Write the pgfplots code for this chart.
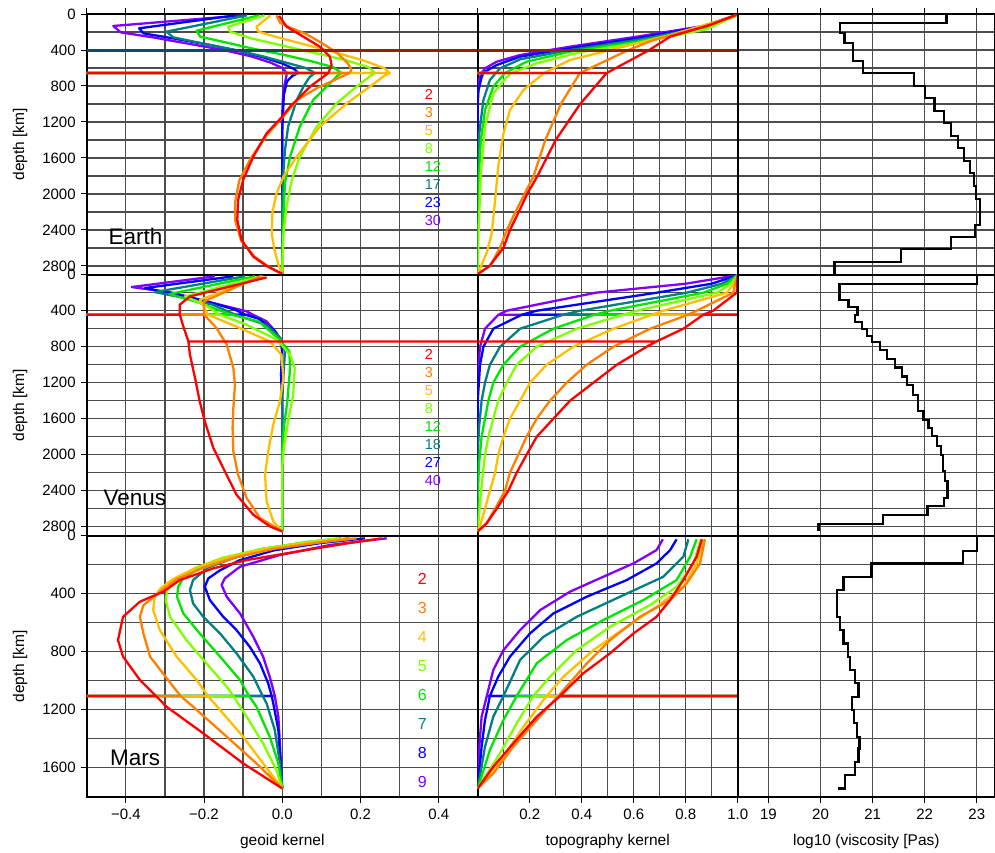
\documentclass[border=0pt]{standalone}
\usepackage{fontspec}
\setmainfont{Liberation Sans}
\usepackage{pgfplots}
\pgfplotsset{compat=1.18}

% spherical-harmonic degree colours (low degree = red ... high degree = violet)
\definecolor{dA}{RGB}{255,0,0}
\definecolor{dB}{RGB}{255,128,0}
\definecolor{dC}{RGB}{255,191,0}
\definecolor{dD}{RGB}{128,255,0}
\definecolor{dE}{RGB}{0,230,0}
\definecolor{dF}{RGB}{0,128,128}
\definecolor{dG}{RGB}{0,0,255}
\definecolor{dH}{RGB}{128,0,255}
\definecolor{pbTeal}{RGB}{22,72,98}
\definecolor{pbRed}{RGB}{150,30,15}

\newcommand{\tickfont}{\fontsize{15}{18}\selectfont}
\newcommand{\labfont}{\fontsize{15.5}{18}\selectfont}
\newcommand{\planetfont}{\fontsize{22.5}{26}\selectfont}
\newcommand{\keyfont}{\fontsize{14.5}{16}\selectfont}
\newcommand{\keyfontM}{\fontsize{16}{18}\selectfont}

\pgfplotsset{
  panel/.style={
    scale only axis, anchor=north west, y dir=reverse,
    axis line style={line width=1.6pt},
    tick align=outside, major tick length=6pt, minor tick length=6pt,
    tick style={black, line width=1pt},
    minor y tick style={draw=none},
    grid=both,
    major grid style={line width=1.3pt, black!70},
    minor grid style={line width=1.3pt, black!70},
    ticklabel style={font=\tickfont},
    xticklabel style={yshift=-3pt},
    yticklabel style={xshift=-1.5pt},
    label style={font=\labfont},
    xlabel style={at={(axis description cs:0.5,-0.1724)}, anchor=center},
    every axis plot/.append style={line width=2.3pt, line join=round},
  },
  geoid/.style={panel, width=391.1pt, xmin=-0.5, xmax=0.5,
    xtick={-0.4,-0.2,0,0.2,0.4}, minor xtick={-0.5,-0.3,-0.1,0.1,0.3,0.5},
    xticklabels={−0.4,−0.2,0.0,0.2,0.4},
    ytick pos=left,
    yticklabels={0,400,800,1200,1600,2000,2400,2800},
    ylabel={depth [km]},
    ylabel style={at={(axis description cs:-0.1705,0.5)}, anchor=center}},
  topo/.style={panel, width=260pt, xmin=0, xmax=1,
    xtick={0.2,0.4,0.6,0.8,1.0}, minor xtick={0,0.1,0.3,0.5,0.7,0.9},
    xticklabels={0.2,0.4,0.6,0.8,1.0},
    yticklabels={}, ytick style={draw=none}},
  visc/.style={panel, width=257.3pt, xmin=18.41, xmax=23.35,
    xtick={19,20,21,22,23}, xticklabels={19,20,21,22,23},
    yticklabels={}, ytick style={draw=none}},
  earthrow/.style={height=260.7pt, ymin=0, ymax=2897,
    ytick={0,400,...,2800}, minor ytick={200,600,...,2600},
    xtick pos=right, xticklabels={}},
  venusrow/.style={height=261pt, ymin=0, ymax=2900,
    ytick={0,400,...,2800}, minor ytick={200,600,...,2600},
    xtick style={draw=none}, xticklabels={}},
  marsrow/.style={height=261pt, ymin=0, ymax=1800,
    ytick={0,400,...,1600}, minor ytick={200,600,...,1800},
    xtick pos=left, minor x tick style={draw=none}},
}

\begin{document}
\begin{tikzpicture}
\path[use as bounding box] (0pt,0pt) rectangle (995pt,-852pt);

%================= EARTH =================
\begin{axis}[geoid, earthrow, at={(86.7pt,-14pt)}]
\addplot[dH] coordinates {(-0.10,15) (-0.27,75) (-0.432,133) (-0.413,204) (-0.33,260) (-0.24,330) (-0.15,400) (-0.08,470) (-0.03,540) (0,600) (0.012,656) (-1,656) (0.012,656) (0.01,700) (0.006,780) (0.002,900) (0,1100) (0,2891)};
\addplot[dG] coordinates {(-0.12,15) (-0.366,159) (-0.355,215) (-0.28,270) (-0.19,340) (-0.11,410) (-0.05,480) (0,550) (0.03,610) (0.041,656) (-1,656) (0.041,656) (0.025,690) (0.012,750) (0.004,900) (0,1300) (0,2891)};
\addplot[dF] coordinates {(-0.09,15) (-0.296,196) (-0.279,259) (-0.2,330) (-0.12,400) (-0.05,470) (0.01,540) (0.06,600) (0.084,656) (-1,656) (0.084,656) (0.07,700) (0.055,800) (0.037,955) (0.015,1250) (0.007,1510) (0.003,1750) (0,2100) (0,2891)};
\addplot[dE] coordinates {(-0.06,15) (-0.219,185) (-0.21,252) (-0.14,320) (-0.07,390) (0,450) (0.07,520) (0.13,590) (0.152,656) (-1,656) (0.152,656) (0.14,690) (0.122,770) (0.079,955) (0.045,1250) (0.02,1585) (0.007,1880) (0.003,2250) (0,2700) (0,2891)};
\addplot[dD] coordinates {(-0.045,15) (-0.138,141) (-0.134,196) (-0.08,270) (0,350) (0.08,430) (0.16,510) (0.22,590) (0.237,656) (-1,656) (0.237,656) (0.225,690) (0.19,807) (0.139,993) (0.088,1252) (0.045,1585) (0.024,1850) (0.011,2140) (0.003,2440) (0,2891)};
\addplot[dC] coordinates {(-0.03,15) (-0.066,141) (-0.061,196) (-0.02,250) (0.05,330) (0.13,420) (0.21,520) (0.26,600) (0.275,656) (-1,656) (0.275,656) (0.26,690) (0.224,807) (0.165,993) (0.096,1252) (0.037,1585) (0.003,1807) (-0.015,2000) (-0.025,2200) (-0.027,2440) (-0.02,2620) (-0.01,2780) (0,2891)};
\addplot[dB] coordinates {(-0.015,15) (-0.005,100) (0.02,150) (0.06,220) (0.1,320) (0.14,430) (0.168,550) (0.177,620) (0.172,656) (-1,656) (0.172,656) (0.14,720) (0.09,820) (0.04,950) (0,1150) (-0.04,1350) (-0.08,1600) (-0.11,1850) (-0.121,2100) (-0.12,2300) (-0.105,2520) (-0.07,2700) (-0.03,2820) (0,2891)};
\addplot[dA] coordinates {(-0.008,20) (0.011,141) (0.054,252) (0.096,363) (0.122,474) (0.126,567) (0.118,656) (-1,656) (0.118,656) (0.071,807) (0.02,1030) (0,1141) (-0.04,1326) (-0.074,1585) (-0.1,1844) (-0.113,2067) (-0.115,2289) (-0.104,2511) (-0.074,2696) (-0.04,2800) (0,2888)};
\addplot[pbTeal] coordinates {(-0.5,407) (0,407)};
\addplot[pbRed] coordinates {(0,407) (0.5,407)};
\node[font=\planetfont] at (axis cs:-0.375,2474) {Earth};
\node[anchor=west, inner sep=0pt, font=\keyfont, text=dA] at (axis cs:0.364,897) {2};
\node[anchor=west, inner sep=0pt, font=\keyfont, text=dB] at (axis cs:0.364,1096) {3};
\node[anchor=west, inner sep=0pt, font=\keyfont, text=dC] at (axis cs:0.364,1295) {5};
\node[anchor=west, inner sep=0pt, font=\keyfont, text=dD] at (axis cs:0.364,1494) {8};
\node[anchor=west, inner sep=0pt, font=\keyfont, text=dE] at (axis cs:0.364,1693) {12};
\node[anchor=west, inner sep=0pt, font=\keyfont, text=dF] at (axis cs:0.364,1892) {17};
\node[anchor=west, inner sep=0pt, font=\keyfont, text=dG] at (axis cs:0.364,2091) {23};
\node[anchor=west, inner sep=0pt, font=\keyfont, text=dH] at (axis cs:0.364,2290) {30};
\end{axis}

\begin{axis}[topo, earthrow, at={(477.7pt,-14pt)}]
\addplot[dH] coordinates {(0.995,10) (0.868,133) (0.612,252) (0.355,363) (0.163,456) (0.073,530) (0.028,604) (0.015,656) (-1,656) (0.015,656) (0.006,720) (0,850) (0,2891)};
\addplot[dG] coordinates {(0.995,12) (0.868,140) (0.612,270) (0.355,381) (0.163,474) (0.073,567) (0.028,641) (0.022,656) (-1,656) (0.022,656) (0.015,700) (0.003,850) (0,1000) (0,2891)};
\addplot[dF] coordinates {(0.995,14) (0.868,150) (0.612,289) (0.355,400) (0.163,504) (0.086,604) (0.07,656) (-1,656) (0.07,656) (0.047,733) (0.022,955) (0.006,1326) (0,1700) (0,2891)};
\addplot[dE] coordinates {(0.995,16) (0.87,160) (0.612,307) (0.355,418) (0.188,530) (0.105,656) (-1,656) (0.105,656) (0.06,807) (0.028,1067) (0.012,1400) (0.003,1880) (0,2300) (0,2891)};
\addplot[dD] coordinates {(0.995,18) (0.88,170) (0.612,326) (0.40,420) (0.227,548) (0.13,656) (-1,656) (0.13,656) (0.112,700) (0.06,881) (0.028,1252) (0.012,1770) (0.003,2440) (0,2891)};
\addplot[dC] coordinates {(0.995,20) (0.74,233) (0.509,400) (0.355,511) (0.255,656) (-1,656) (0.255,656) (0.176,844) (0.124,1067) (0.099,1326) (0.079,1696) (0.067,2067) (0.054,2437) (0.035,2650) (0.009,2830) (0,2891)};
\addplot[dB] coordinates {(0.995,12) (0.868,141) (0.676,289) (0.58,400) (0.393,656) (-1,656) (0.393,656) (0.32,1000) (0.26,1400) (0.215,1800) (0.18,2000) (0.145,2200) (0.112,2400) (0.085,2600) (0.048,2800) (0,2891)};
\addplot[dA] coordinates {(0.995,10) (0.894,122) (0.74,252) (0.66,400) (0.496,656) (-1,656) (0.496,656) (0.394,1000) (0.3,1400) (0.23,1800) (0.19,2000) (0.158,2200) (0.124,2400) (0.099,2600) (0.045,2800) (0,2891)};
\addplot[pbRed] coordinates {(0,407) (1,407)};
\end{axis}

\begin{axis}[visc, earthrow, at={(737.7pt,-14pt)}]
\addplot[black, line width=2.2pt, line join=miter] coordinates {
(22.42,0) (22.42,96) (20.37,96) (20.37,215) (20.46,215) (20.46,326) (20.63,326) (20.63,522)
(20.82,522) (20.82,652) (21.79,652) (21.79,800) (22.0,800) (22.0,937) (22.19,937) (22.19,1074)
(22.37,1074) (22.37,1215) (22.5,1215) (22.5,1356) (22.64,1356) (22.64,1493) (22.76,1493) (22.76,1637)
(22.87,1637) (22.87,1770) (22.94,1770) (22.94,1911) (22.99,1911) (22.99,2052) (23.06,2052) (23.06,2344)
(22.96,2344) (22.96,2474) (22.51,2474) (22.51,2615) (21.54,2615) (21.54,2752) (20.27,2752) (20.27,2889)};
\end{axis}

%================= VENUS =================
\begin{axis}[geoid, venusrow, at={(86.7pt,-274.7pt)}]
\addplot[dH] coordinates {(-0.172,18) (-0.385,137) (-0.28,200) (-0.176,315) (-0.091,407) (-0.075,444) (-1,444) (-0.075,444) (-0.04,519) (-0.014,648) (-0.006,722) (0,852) (0,2852)};
\addplot[dG] coordinates {(-0.125,18) (-0.351,148) (-0.28,210) (-0.19,300) (-0.12,390) (-0.095,444) (-1,444) (-0.095,444) (-0.06,490) (-0.02,620) (0,800) (-0.003,1100) (0,1500) (0,2852)};
\addplot[dF] coordinates {(-0.095,18) (-0.326,193) (-0.26,250) (-0.18,330) (-0.12,444) (-1,444) (-0.12,444) (-0.04,560) (-0.005,700) (0.007,852) (0.004,1050) (0,1400) (0,2852)};
\addplot[dE] coordinates {(-0.07,18) (-0.289,215) (-0.22,300) (-0.13,444) (-1,444) (-0.13,444) (-0.06,520) (-0.006,722) (0.018,852) (0.02,1037) (0.013,1407) (0.004,1700) (0,1963) (0,2852)};
\addplot[dD] coordinates {(-0.053,18) (-0.249,241) (-0.20,330) (-0.16,444) (-1,444) (-0.16,444) (-0.091,556) (-0.014,722) (0.02,889) (0.032,1037) (0.028,1333) (0.015,1630) (0.004,1926) (0,2148) (0,2852)};
\addplot[dC] coordinates {(-0.049,18) (-0.21,278) (-0.19,444) (-1,444) (-0.19,444) (-0.108,593) (-0.032,741) (-0.002,889) (0.003,1148) (-0.006,1407) (-0.023,1667) (-0.036,1963) (-0.044,2222) (-0.04,2519) (-0.023,2741) (0,2852)};
\addplot[dB] coordinates {(-0.057,18) (-0.2,296) (-0.2,444) (-1,444) (-0.2,444) (-0.168,593) (-0.142,778) (-0.125,1037) (-0.121,1222) (-0.125,1481) (-0.127,1704) (-0.125,1963) (-0.113,2222) (-0.091,2481) (-0.057,2704) (0,2852)};
\addplot[dA] coordinates {(-0.04,30) (-0.236,241) (-0.262,333) (-0.262,444) (-1,444) (-0.262,444) (-0.253,574) (-0.24,741) (2,741) (-0.24,741) (-0.236,889) (-0.223,1148) (-0.211,1407) (-0.198,1630) (-0.176,1926) (-0.151,2148) (-0.117,2444) (-0.074,2667) (-0.032,2796) (0,2852)};
\node[font=\planetfont] at (axis cs:-0.377,2476) {Venus};
\node[anchor=west, inner sep=0pt, font=\keyfont, text=dA] at (axis cs:0.364,889) {2};
\node[anchor=west, inner sep=0pt, font=\keyfont, text=dB] at (axis cs:0.364,1088) {3};
\node[anchor=west, inner sep=0pt, font=\keyfont, text=dC] at (axis cs:0.364,1287) {5};
\node[anchor=west, inner sep=0pt, font=\keyfont, text=dD] at (axis cs:0.364,1486) {8};
\node[anchor=west, inner sep=0pt, font=\keyfont, text=dE] at (axis cs:0.364,1685) {12};
\node[anchor=west, inner sep=0pt, font=\keyfont, text=dF] at (axis cs:0.364,1884) {18};
\node[anchor=west, inner sep=0pt, font=\keyfont, text=dG] at (axis cs:0.364,2083) {27};
\node[anchor=west, inner sep=0pt, font=\keyfont, text=dH] at (axis cs:0.364,2282) {40};
\end{axis}

\begin{axis}[topo, venusrow, at={(477.7pt,-274.7pt)}]
\addplot[dH] coordinates {(1,5) (0.8,100) (0.454,200) (0.112,400) (0.08,444) (2,444) (0.08,444) (0.028,600) (0.009,800) (0.003,1000) (0,1200) (0,2852)};
\addplot[dG] coordinates {(1,5) (0.9,100) (0.688,200) (0.227,400) (0.17,444) (2,444) (0.17,444) (0.06,600) (0.022,800) (0.009,1000) (0,1400) (0,2852)};
\addplot[dF] coordinates {(1,5) (0.94,100) (0.804,200) (0.394,400) (0.33,444) (2,444) (0.33,444) (0.163,600) (0.086,800) (0.047,1000) (0.028,1200) (0.015,1400) (0.005,1700) (0,2000) (0,2852)};
\addplot[dE] coordinates {(1,5) (0.96,100) (0.868,200) (0.509,400) (0.45,444) (2,444) (0.45,444) (0.291,600) (0.163,800) (0.099,1000) (0.06,1200) (0.041,1400) (0.028,1600) (0.015,1800) (0.005,2100) (0,2500) (0,2852)};
\addplot[dD] coordinates {(1,5) (0.975,100) (0.92,200) (0.612,400) (0.56,444) (2,444) (0.56,444) (0.381,600) (0.227,800) (0.15,1000) (0.112,1200) (0.079,1400) (0.06,1600) (0.041,1800) (0.028,2000) (0.02,2200) (0.01,2500) (0,2852)};
\addplot[dC] coordinates {(1,5) (0.985,100) (0.958,200) (0.714,400) (0.67,444) (2,444) (0.67,444) (0.522,600) (0.368,800) (0.265,1000) (0.201,1200) (0.163,1400) (0.124,1600) (0.099,1800) (0.079,2000) (0.067,2200) (0.047,2400) (0.028,2600) (0.01,2780) (0,2852)};
\addplot[dB] coordinates {(1,5) (0.99,100) (0.983,200) (0.842,400) (0.81,444) (2,444) (0.81,444) (0.663,600) (0.522,800) (0.419,1000) (0.342,1200) (0.278,1400) (0.227,1600) (0.188,1800) (0.156,2000) (0.124,2200) (0.105,2400) (0.067,2600) (0.03,2780) (0,2852)};
\addplot[dA] coordinates {(1,5) (0.998,100) (0.996,200) (0.906,400) (0.868,444) (2,444) (0.868,444) (0.791,600) (0.688,741) (-1,741) (0.688,741) (0.65,800) (0.535,1000) (0.445,1200) (0.355,1400) (0.291,1600) (0.227,1800) (0.188,2000) (0.15,2200) (0.118,2400) (0.073,2600) (0.035,2760) (0,2852)};
\end{axis}

\begin{axis}[visc, venusrow, at={(737.7pt,-274.7pt)}]
\addplot[black, line width=2.2pt, line join=miter] coordinates {
(23.0,0) (23.0,100) (20.363,100) (20.363,278) (20.536,278) (20.536,359) (20.708,359) (20.708,444)
(20.663,444) (20.663,526) (20.791,526) (20.791,600) (20.887,600) (20.887,685) (20.983,685) (20.983,748)
(21.143,748) (21.143,833) (21.271,833) (21.271,933) (21.431,933) (21.431,1030) (21.559,1030) (21.559,1130)
(21.655,1130) (21.655,1222) (21.783,1222) (21.783,1333) (21.879,1333) (21.879,1511) (21.975,1511) (21.975,1611)
(22.071,1611) (22.071,1704) (22.135,1704) (22.135,1796) (22.231,1796) (22.231,1907) (22.308,1907) (22.308,2000)
(22.346,2000) (22.346,2185) (22.391,2185) (22.391,2296) (22.436,2296) (22.436,2481) (22.372,2481) (22.372,2574)
(22.052,2574) (22.052,2674) (21.207,2674) (21.207,2770) (19.96,2770) (19.96,2852)};
\end{axis}

%================= MARS =================
\begin{axis}[geoid, marsrow, at={(86.7pt,-535.7pt)}, xlabel={geoid kernel}]
\addplot[dH] coordinates {(0.267,18) (0.122,64) (-0.006,133) (-0.108,214) (-0.147,294) (-0.155,340) (-0.142,421) (-0.108,536) (-0.074,697) (-0.049,834) (-0.032,972) (-0.019,1105) (-1,1105) (-0.019,1105) (-0.01,1248) (-0.006,1432) (0,1743)};
\addplot[dG] coordinates {(0.211,18) (0.1,50) (-0.02,100) (-0.11,170) (-0.16,240) (-0.189,294) (-0.198,352) (-0.185,444) (-0.151,559) (-0.117,651) (-0.083,766) (-0.057,880) (-0.036,1018) (-0.027,1105) (-1,1105) (-0.027,1105) (-0.023,1156) (-0.01,1340) (0,1743)};
\addplot[dF] coordinates {(0.169,18) (0.08,45) (-0.03,90) (-0.12,150) (-0.19,220) (-0.228,306) (-0.236,375) (-0.228,467) (-0.202,559) (-0.159,674) (-0.117,811) (-0.074,972) (-0.05,1105) (-1,1105) (-0.05,1105) (-0.04,1156) (-0.019,1340) (-0.006,1570) (0,1743)};
\addplot[dE] coordinates {(0.15,18) (0.06,45) (-0.05,90) (-0.14,150) (-0.21,220) (-0.255,300) (-0.266,352) (-0.269,421) (-0.253,536) (-0.211,674) (-0.159,834) (-0.108,995) (-0.085,1105) (-1,1105) (-0.085,1105) (-0.066,1179) (-0.032,1386) (-0.01,1570) (0,1743)};
\addplot[dD] coordinates {(0.145,18) (0.06,45) (-0.05,90) (-0.15,150) (-0.22,220) (-0.27,300) (-0.294,375) (-0.298,444) (-0.287,559) (-0.245,720) (-0.194,880) (-0.142,1041) (-0.125,1105) (-1,1105) (-0.125,1105) (-0.091,1248) (-0.049,1432) (-0.015,1616) (0,1743)};
\addplot[dC] coordinates {(0.175,18) (0.08,45) (-0.04,90) (-0.14,150) (-0.22,220) (-0.28,300) (-0.31,360) (-0.326,421) (-0.33,513) (-0.313,651) (-0.27,834) (-0.219,995) (-0.19,1105) (-1,1105) (-0.19,1105) (-0.159,1202) (-0.1,1386) (-0.049,1570) (0,1743)};
\addplot[dB] coordinates {(0.19,18) (0.1,45) (-0.02,90) (-0.12,150) (-0.2,220) (-0.27,300) (-0.313,386) (-0.355,480) (-0.364,559) (-0.355,674) (-0.338,834) (-0.292,995) (-0.26,1105) (-1,1105) (-0.26,1105) (-0.228,1179) (-0.142,1386) (-0.066,1570) (0,1743)};
\addplot[dA] coordinates {(0.254,18) (0.165,53) (0.037,110) (-0.091,168) (-0.176,225) (-0.262,306) (-0.304,386) (-0.364,455) (-0.407,559) (-0.42,720) (-0.407,834) (-0.364,995) (-0.323,1105) (-1,1105) (-0.323,1105) (-0.296,1179) (-0.202,1363) (-0.1,1570) (0,1743)};
\node[font=\planetfont] at (axis cs:-0.376,1533) {Mars};
\node[anchor=west, inner sep=0pt, font=\keyfontM, text=dA] at (axis cs:0.346,299) {2};
\node[anchor=west, inner sep=0pt, font=\keyfontM, text=dB] at (axis cs:0.346,499) {3};
\node[anchor=west, inner sep=0pt, font=\keyfontM, text=dC] at (axis cs:0.346,699) {4};
\node[anchor=west, inner sep=0pt, font=\keyfontM, text=dD] at (axis cs:0.346,899) {5};
\node[anchor=west, inner sep=0pt, font=\keyfontM, text=dE] at (axis cs:0.346,1099) {6};
\node[anchor=west, inner sep=0pt, font=\keyfontM, text=dF] at (axis cs:0.346,1299) {7};
\node[anchor=west, inner sep=0pt, font=\keyfontM, text=dG] at (axis cs:0.346,1499) {8};
\node[anchor=west, inner sep=0pt, font=\keyfontM, text=dH] at (axis cs:0.346,1699) {9};
\end{axis}

\begin{axis}[topo, marsrow, at={(477.7pt,-535.7pt)}, xlabel={topography kernel}]
\addplot[dH] coordinates {(0.712,25) (0.688,99) (0.599,191) (0.483,283) (0.355,386) (0.24,513) (0.163,651) (0.099,789) (0.06,926) (0.035,1105) (2,1105) (0.035,1105) (0.015,1248) (0.006,1456) (0,1743)};
\addplot[dG] coordinates {(0.765,25) (0.74,99) (0.688,191) (0.573,306) (0.419,421) (0.291,536) (0.201,674) (0.124,834) (0.079,972) (0.047,1105) (2,1105) (0.047,1105) (0.028,1271) (0.015,1456) (0,1743)};
\addplot[dF] coordinates {(0.81,25) (0.791,145) (0.714,283) (0.547,421) (0.381,559) (0.253,697) (0.163,857) (0.099,1105) (2,1105) (0.099,1105) (0.06,1248) (0.028,1456) (0,1743)};
\addplot[dE] coordinates {(0.842,25) (0.817,145) (0.765,306) (0.637,444) (0.483,582) (0.342,720) (0.227,880) (0.15,1105) (2,1105) (0.15,1105) (0.099,1271) (0.047,1478) (0,1743)};
\addplot[dD] coordinates {(0.858,25) (0.83,191) (0.765,352) (0.663,478) (0.509,628) (0.381,789) (0.278,972) (0.214,1105) (2,1105) (0.214,1105) (0.15,1294) (0.086,1501) (0,1743)};
\addplot[dC] coordinates {(0.868,25) (0.842,191) (0.791,352) (0.688,490) (0.573,628) (0.445,789) (0.33,972) (0.265,1105) (2,1105) (0.265,1105) (0.176,1317) (0.099,1524) (0,1743)};
\addplot[dB] coordinates {(0.874,25) (0.855,191) (0.804,329) (0.74,444) (0.624,559) (0.509,720) (0.42,880) (0.31,1105) (2,1105) (0.31,1105) (0.227,1271) (0.137,1455) (0.06,1639) (0,1743)};
\addplot[dA] coordinates {(0.862,25) (0.842,145) (0.791,306) (0.74,444) (0.688,559) (0.599,674) (0.509,811) (0.406,949) (0.317,1105) (2,1105) (0.317,1105) (0.227,1248) (0.137,1432) (0.06,1593) (0,1743)};
\end{axis}

\begin{axis}[visc, marsrow, at={(737.7pt,-535.7pt)}, xlabel={log10 (viscosity [Pas)}]
\addplot[black, line width=2.2pt, line join=miter] coordinates {
(23.0,0) (23.0,103) (22.74,103) (22.74,191) (20.98,191) (20.98,283) (20.44,283) (20.44,375)
(20.31,375) (20.31,563) (20.38,563) (20.38,651) (20.44,651) (20.44,743) (20.52,743) (20.52,834)
(20.57,834) (20.57,926) (20.66,926) (20.66,1018) (20.73,1018) (20.73,1110) (20.6,1110) (20.6,1202)
(20.64,1202) (20.64,1294) (20.7,1294) (20.7,1386) (20.75,1386) (20.75,1467) (20.73,1467) (20.73,1559)
(20.66,1559) (20.66,1651) (20.47,1651) (20.47,1743) (20.34,1743)};
\end{axis}

\end{tikzpicture}
\end{document}
